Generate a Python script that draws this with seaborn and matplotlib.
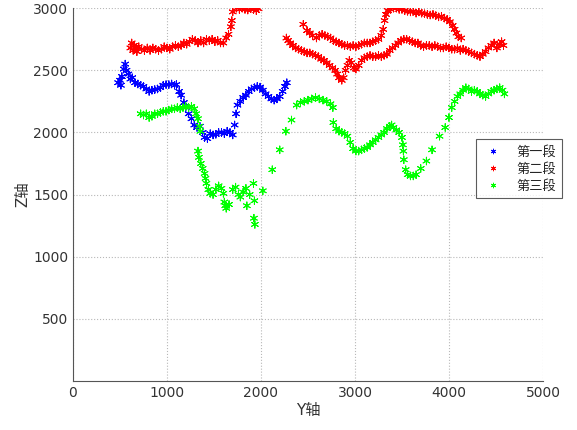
import pandas as pd
import seaborn as sns
import matplotlib.pyplot as plt

# --- data ---
blue_x = [480, 500, 510, 520, 540, 555, 570, 590, 610, 630, 660, 690, 720, 750, 780, 810, 840, 870, 900, 930,
          960, 990, 1020, 1050, 1080, 1100, 1130, 1150, 1180, 1200, 1230, 1260, 1290, 1320, 1350, 1380, 1400,
          1430, 1460, 1490, 1520, 1550, 1580, 1610, 1640, 1670, 1700, 1720, 1735, 1750, 1780, 1810, 1840, 1870,
          1900, 1930, 1960, 1990, 2020, 2050, 2080, 2110, 2140, 2170, 2200, 2230, 2255, 2275]
blue_z = [2400, 2420, 2380, 2450, 2510, 2550, 2500, 2470, 2430, 2440, 2400, 2390, 2380, 2370, 2350, 2330, 2340,
          2345, 2350, 2360, 2380, 2385, 2385, 2390, 2380, 2385, 2330, 2300, 2240, 2200, 2150, 2110, 2060, 2040,
          2050, 2000, 1960, 1950, 1990, 1980, 1985, 2000, 2000, 1990, 2010, 2000, 1980, 2060, 2150, 2220, 2250,
          2280, 2300, 2330, 2350, 2360, 2370, 2365, 2340, 2310, 2290, 2270, 2260, 2270, 2290, 2330, 2370, 2400]

red_x = [610, 625, 640, 650, 665, 680, 700, 730, 760, 790, 820, 850, 880, 910, 940, 970, 1000, 1030, 1060, 1090,
         1120, 1150, 1180, 1210, 1240, 1270, 1300, 1330, 1360, 1390, 1420, 1450, 1480, 1510, 1540, 1570, 1600,
         1630, 1655, 1680, 1690, 1700, 1740, 1770, 1800, 1830, 1860, 1890, 1920, 1950, 1975,
         2270, 2290, 2310, 2340, 2370, 2400, 2430, 2460, 2490, 2520, 2550, 2580, 2610, 2640, 2670, 2700, 2730,
         2760, 2790, 2810, 2830, 2860, 2880, 2900, 2920, 2940, 2960, 2990, 3010, 3040, 3070, 3100, 3130, 3160,
         3190, 3220, 3250, 3280, 3310, 3340, 3370, 3400, 3430, 3460, 3490, 3520, 3550, 3580, 3610, 3640, 3670,
         3700, 3730, 3760, 3790, 3820, 3850, 3880, 3910, 3940, 3970, 4000, 4030, 4060, 4090, 4120, 4150, 4180,
         4210, 4240, 4270, 4300, 4330, 4360, 4390, 4420, 4450, 4480, 4510, 4540, 4560, 4580,
         2450, 2490, 2520, 2550, 2590, 2620, 2650, 2680, 2710, 2740, 2770, 2800, 2830, 2860, 2890, 2920, 2950,
         2980, 3010, 3040, 3070, 3100, 3130, 3160, 3190, 3220, 3250, 3280, 3300, 3315, 3330, 3350, 3380, 3410,
         3440, 3470, 3500, 3530, 3560, 3590, 3620, 3650, 3680, 3710, 3740, 3770, 3800, 3830, 3860, 3890, 3920,
         3950, 3980, 4010, 4040, 4060, 4080, 4100, 4130]
red_z = [2680, 2720, 2660, 2700, 2680, 2650, 2690, 2670, 2660, 2680, 2660, 2680, 2670, 2660, 2670, 2690, 2680,
         2670, 2690, 2700, 2690, 2700, 2720, 2710, 2730, 2750, 2740, 2720, 2740, 2720, 2750, 2740, 2750, 2730,
         2740, 2720, 2720, 2760, 2790, 2850, 2900, 2970, 3000, 2990, 3000, 2990, 2985, 2995, 2990, 2980, 2995,
         2760, 2740, 2720, 2700, 2680, 2670, 2660, 2650, 2640, 2640, 2630, 2620, 2610, 2590, 2580, 2560, 2540,
         2520, 2500, 2470, 2440, 2420, 2440, 2500, 2540, 2580, 2560, 2520, 2510, 2540, 2580, 2600, 2610, 2620,
         2610, 2610, 2620, 2610, 2620, 2630, 2660, 2680, 2700, 2720, 2740, 2750, 2750, 2740, 2730, 2720, 2720,
         2700, 2690, 2700, 2700, 2690, 2700, 2690, 2680, 2680, 2690, 2680, 2670, 2670, 2680, 2660, 2670, 2660,
         2650, 2640, 2630, 2620, 2610, 2630, 2650, 2680, 2700, 2720, 2680, 2710, 2730, 2700,
         2870, 2820, 2800, 2780, 2760, 2780, 2790, 2780, 2770, 2760, 2740, 2730, 2720, 2710, 2700, 2700, 2690,
         2700, 2690, 2700, 2710, 2720, 2720, 2720, 2730, 2740, 2750, 2780, 2830, 2900, 2950, 2980, 2990, 3000,
         3000, 2990, 2990, 2980, 2975, 2970, 2975, 2960, 2970, 2960, 2955, 2950, 2945, 2950, 2940, 2930, 2935,
         2920, 2910, 2890, 2860, 2830, 2800, 2770, 2760]

green_x = [720, 750, 780, 810, 840, 870, 900, 930, 960, 990, 1020, 1050, 1080, 1110, 1140, 1170, 1200, 1230,
           1260, 1290, 1310, 1330, 1345, 1355, 1330, 1340, 1360, 1380, 1400, 1410, 1420, 1440, 1460, 1490, 1520,
           1550, 1580, 1600, 1610, 1620, 1630, 1660, 1700, 1730, 1760, 1780, 1810, 1840, 1850, 1880, 1920, 1930,
           1925, 1935, 2020, 2120, 2200, 2265, 2325, 2380, 2420, 2460, 2500, 2540, 2580, 2620, 2660, 2700, 2740,
           2765, 2770, 2800, 2830, 2860, 2890, 2920, 2950, 2980, 3010, 3040, 3070, 3100, 3130, 3160, 3190, 3220,
           3250, 3280, 3310, 3340, 3370, 3390, 3410, 3440, 3470, 3500, 3510, 3515, 3520, 3540, 3560, 3590, 3620,
           3650, 3700, 3760, 3820, 3900, 3960, 4000, 4030, 4060, 4090, 4120, 4150, 4180, 4210, 4240, 4270, 4300,
           4330, 4360, 4390, 4420, 4450, 4480, 4510, 4540, 4570, 4590]
green_z = [2150, 2140, 2150, 2120, 2130, 2150, 2150, 2160, 2170, 2170, 2180, 2190, 2190, 2200, 2190, 2200, 2210,
           2200, 2210, 2190, 2150, 2110, 2050, 2010, 1850, 1800, 1750, 1710, 1670, 1630, 1590, 1540, 1510, 1500,
           1540, 1570, 1550, 1510, 1440, 1410, 1390, 1420, 1540, 1560, 1500, 1480, 1520, 1550, 1410, 1500, 1590,
           1450, 1310, 1260, 1530, 1700, 1860, 2010, 2100, 2220, 2240, 2250, 2260, 2270, 2280, 2270, 2260, 2250,
           2230, 2200, 2080, 2030, 2010, 2000, 1990, 1970, 1920, 1870, 1850, 1850, 1860, 1870, 1880, 1900, 1920,
           1940, 1960, 1980, 2000, 2030, 2050, 2060, 2040, 2020, 2000, 1960, 1900, 1850, 1780, 1700, 1660, 1650,
           1650, 1660, 1710, 1770, 1860, 1970, 2040, 2120, 2200, 2250, 2290, 2310, 2340, 2360, 2350, 2330, 2340,
           2330, 2310, 2300, 2290, 2310, 2330, 2340, 2350, 2360, 2340, 2310]

labels = ['第一段', '第二段', '第三段']
colors = ['#0000ff', '#ff0000', '#00ff00']

df = pd.concat([
    pd.DataFrame({'Y': blue_x, 'Z': blue_z, 'seg': labels[0]}),
    pd.DataFrame({'Y': red_x, 'Z': red_z, 'seg': labels[1]}),
    pd.DataFrame({'Y': green_x, 'Z': green_z, 'seg': labels[2]}),
])

sns.set_style('white')
plt.rcParams['font.family'] = ['DejaVu Sans', 'Noto Sans CJK SC']

fig = plt.figure(figsize=(5.77, 4.30), dpi=100)
ax = fig.add_axes([0.1265, 0.114, 0.8145, 0.867])

sns.scatterplot(data=df, x='Y', y='Z', hue='seg', palette=colors, marker=(6, 2, 0),
                s=30, linewidth=0.7, ax=ax, legend=True)

ax.set_xlim(0, 5000)
ax.set_ylim(0, 3000)
ax.set_xticks(range(0, 5001, 1000))
ax.set_yticks(range(500, 3001, 500))
ax.grid(True, linestyle=':', color='#b8b8b8', linewidth=0.8)
ax.tick_params(direction='in', length=3, labelsize=10, colors='#333333')
for side in ['top', 'right']:
    ax.spines[side].set_visible(False)
for side in ['left', 'bottom']:
    ax.spines[side].set_color('#555555')
    ax.spines[side].set_linewidth(0.8)

ax.set_xlabel('Y轴', fontsize=11, color='#333333', labelpad=2)
ax.set_ylabel('Z轴', fontsize=11, color='#333333', labelpad=2)

leg = ax.legend(loc='upper right', bbox_to_anchor=(0.986, 0.691), bbox_transform=fig.transFigure,
                frameon=True, fancybox=False, edgecolor='#333333', handletextpad=1.0, markerscale=0.7,
                handlelength=1.6, borderpad=0.45, labelspacing=0.3,
                prop={'family': ['Noto Sans CJK SC'], 'size': 9.5})
leg.get_frame().set_linewidth(0.8)

fig.savefig('out.png', dpi=100)
